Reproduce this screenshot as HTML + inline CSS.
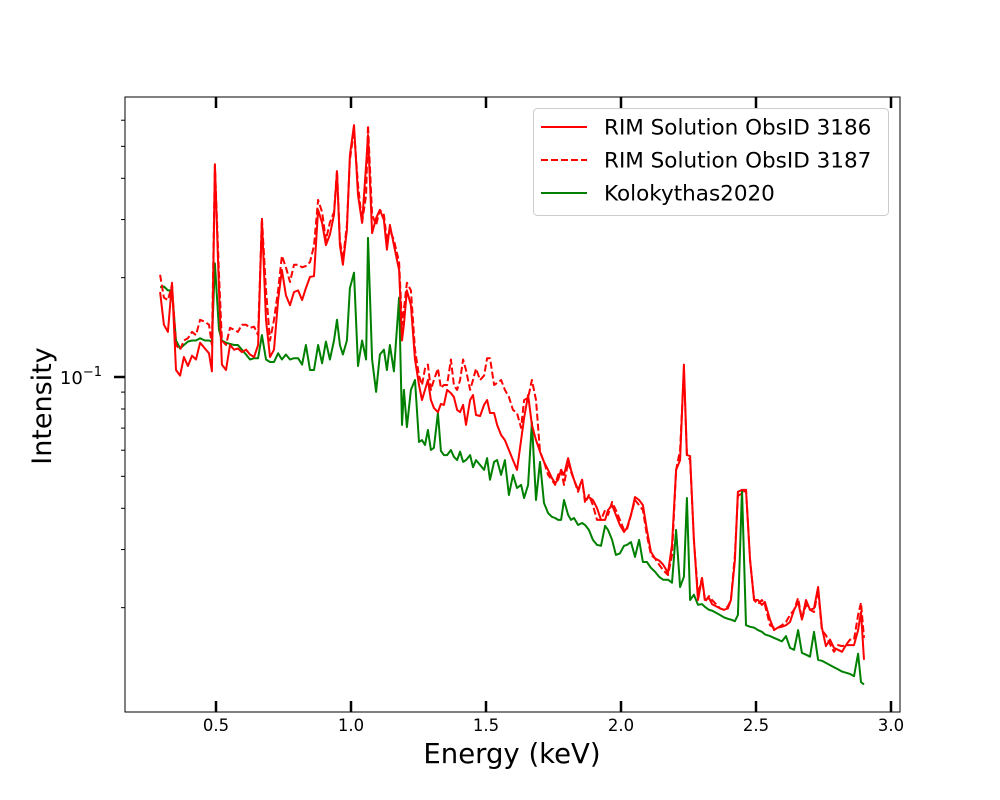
<!DOCTYPE html>
<html><head><meta charset="utf-8"><style>
body{margin:0;background:#fff}
svg{display:block;font-family:"DejaVu Sans","Liberation Sans",sans-serif}
</style></head><body>
<svg id="chart" width="1000" height="800" viewBox="0 0 1000 800">
<rect x="0" y="0" width="1000" height="800" fill="#fff"/>
<g id="series"></g>
<rect x="125" y="97" width="775" height="615" fill="none" stroke="#000" stroke-width="1"/>
<g id="axes"></g>
<text x="512" y="763" font-size="27.5" text-anchor="middle">Energy (keV)</text>
<text transform="translate(51,406) rotate(-90)" font-size="27" text-anchor="middle">Intensity</text>
<g>
<rect x="533.5" y="108.5" width="355" height="107" rx="4" fill="#fff" fill-opacity="0.8" stroke="#ccc"/>
<line x1="541" y1="127" x2="587" y2="127" stroke="#ff0000" stroke-width="2"/>
<text x="604" y="134.5" font-size="21.5">RIM Solution ObsID 3186</text>
<line x1="541" y1="160" x2="587" y2="160" stroke="#ff0000" stroke-width="2" stroke-dasharray="7,3"/>
<text x="604" y="167.5" font-size="21.5">RIM Solution ObsID 3187</text>
<line x1="541" y1="193" x2="587" y2="193" stroke="#008000" stroke-width="2"/>
<text x="604" y="200.5" font-size="21.5">Kolokythas2020</text>
</g>
</svg>
<script>
const energies=[.293,.307,.322,.337,.352,.367,.381,.396,.411,.426,.441,.459,.474,.485,.496,.511,.522,.537,.552,.567,.581,.596,.611,.626,.641,.656,.670,.685,.700,.715,.730,.744,.759,.774,.789,.804,.819,.833,.848,.863,.878,.893,.907,.922,.937,.948,.959,.970,.985,.996,1.011,1.026,1.041,1.056,1.063,1.078,1.093,1.107,1.122,1.133,1.144,1.159,1.178,1.189,1.196,1.207,1.222,1.237,1.252,1.263,1.274,1.285,1.296,1.307,1.322,1.333,1.344,1.356,1.370,1.381,1.393,1.404,1.415,1.426,1.441,1.452,1.463,1.478,1.493,1.504,1.515,1.530,1.541,1.556,1.570,1.585,1.600,1.615,1.630,1.641,1.656,1.670,1.685,1.700,1.715,1.730,1.744,1.756,1.767,1.778,1.789,1.804,1.815,1.826,1.841,1.856,1.867,1.881,1.896,1.911,1.926,1.941,1.952,1.967,1.981,1.996,2.011,2.022,2.037,2.052,2.067,2.081,2.096,2.111,2.126,2.141,2.156,2.174,2.189,2.204,2.219,2.233,2.244,2.256,2.270,2.285,2.300,2.311,2.326,2.337,2.352,2.367,2.381,2.396,2.407,2.422,2.433,2.448,2.463,2.478,2.493,2.507,2.522,2.533,2.552,2.567,2.581,2.596,2.611,2.626,2.641,2.656,2.670,2.685,2.700,2.715,2.730,2.744,2.759,2.774,2.789,2.804,2.819,2.833,2.848,2.863,2.878,2.889,2.900];
const obs3186=[.181,.144,.137,.193,.105,.101,.115,.108,.116,.113,.127,.122,.118,.104,.441,.183,.109,.105,.125,.121,.122,.119,.121,.117,.115,.125,.299,.149,.115,.121,.171,.211,.177,.165,.181,.183,.171,.186,.201,.202,.321,.293,.251,.270,.310,.418,.251,.219,.279,.470,.580,.356,.293,.439,.541,.273,.303,.321,.299,.243,.289,.251,.211,.129,.144,.183,.165,.113,.0946,.0852,.0914,.0979,.0852,.0806,.0783,.0829,.0823,.0914,.0894,.0870,.0795,.0783,.0823,.0716,.0852,.0882,.0767,.0762,.0823,.0852,.0778,.0778,.0716,.0667,.0644,.0601,.0560,.0523,.0644,.0751,.0882,.0716,.0644,.0594,.0553,.0523,.0494,.0477,.0488,.0523,.0505,.0568,.0523,.0488,.0455,.0488,.0424,.0433,.0424,.0401,.0369,.0369,.0395,.0409,.0382,.0356,.0339,.0349,.0382,.0433,.0424,.0409,.0344,.0295,.0282,.0278,.0270,.0255,.0310,.0523,.0560,.109,.0580,.0576,.0321,.0211,.0246,.0211,.0214,.0205,.0202,.0199,.0197,.0199,.0211,.0278,.0449,.0455,.0455,.0278,.0211,.0211,.0204,.0208,.0184,.0171,.0174,.0175,.0177,.0181,.0197,.0208,.0184,.0211,.0197,.0199,.0231,.0174,.0153,.0160,.0151,.0149,.0147,.0154,.0154,.0154,.0171,.0194,.0139];
const obs3187=[.204,.174,.171,.190,.125,.121,.129,.131,.137,.134,.149,.147,.144,.125,.439,.204,.129,.125,.141,.139,.137,.144,.144,.141,.142,.134,.303,.183,.129,.149,.183,.233,.215,.194,.219,.219,.215,.217,.223,.250,.344,.316,.260,.294,.316,.424,.260,.226,.289,.455,.560,.382,.294,.356,.580,.310,.289,.321,.310,.260,.279,.260,.223,.144,.160,.193,.183,.121,.101,.0946,.106,.109,.0914,.0979,.106,.0926,.0946,.0946,.113,.0946,.0914,.0979,.113,.105,.0914,.0979,.106,.0979,.101,.114,.114,.0946,.0959,.0979,.0914,.0870,.0795,.0778,.0701,.0852,.0864,.0979,.0852,.0594,.0553,.0505,.0488,.0471,.0505,.0523,.0471,.0553,.0516,.0488,.0449,.0488,.0415,.0439,.0409,.0369,.0369,.0395,.0382,.0418,.0395,.0369,.0344,.0344,.0382,.0424,.0409,.0395,.0332,.0289,.0282,.0270,.0260,.0251,.0289,.0523,.0601,.105,.0580,.0560,.0321,.0219,.0246,.0208,.0217,.0211,.0205,.0199,.0197,.0202,.0211,.0289,.0436,.0445,.0455,.0278,.0211,.0205,.0211,.0204,.0177,.0174,.0174,.0177,.0181,.0190,.0197,.0214,.0184,.0204,.0197,.0194,.0226,.0171,.0165,.0155,.0147,.0154,.0153,.0154,.0160,.0160,.0190,.0207,.0162];
const kolokythas=[.187,.188,.183,.183,.129,.122,.125,.128,.129,.129,.131,.129,.129,.128,.221,.139,.129,.127,.126,.125,.125,.121,.117,.113,.114,.114,.134,.113,.111,.111,.118,.113,.117,.113,.114,.114,.109,.125,.105,.105,.125,.110,.128,.113,.129,.149,.125,.117,.129,.186,.207,.108,.129,.113,.264,.113,.0901,.117,.121,.105,.125,.104,.174,.0716,.0914,.0705,.0914,.0979,.0636,.0644,.0622,.0691,.0601,.0610,.0778,.0597,.0580,.0580,.0601,.0573,.0560,.0594,.0553,.0560,.0580,.0533,.0560,.0541,.0523,.0568,.0488,.0553,.0560,.0505,.0560,.0439,.0505,.0461,.0471,.0430,.0471,.0730,.0424,.0553,.0415,.0387,.0377,.0374,.0369,.0369,.0424,.0382,.0369,.0374,.0356,.0361,.0356,.0344,.0321,.0310,.0308,.0354,.0344,.0321,.0289,.0292,.0308,.0310,.0316,.0285,.0321,.0275,.0275,.0264,.0257,.0248,.0243,.0243,.0238,.0344,.0231,.0248,.0430,.0211,.0219,.0204,.0205,.0201,.0197,.0196,.0193,.0190,.0187,.0185,.0184,.0182,.0190,.0455,.0177,.0175,.0174,.0171,.0169,.0166,.0164,.0162,.0160,.0158,.0164,.0151,.0149,.0171,.0146,.0144,.0142,.0169,.0139,.0138,.0136,.0134,.0132,.0130,.0128,.0127,.0126,.0124,.0145,.0119,.0117];
const xTicks=[0.5,1.0,1.5,2.0,2.5,3.0];
const xTickLabels=["0.5","1.0","1.5","2.0","2.5","3.0"];
const yMinorTicks=[0.02,0.03,0.04,0.05,0.06,0.07,0.08,0.09,0.2,0.3,0.4,0.5,0.6];

const NS="http://www.w3.org/2000/svg";
function xs(e){return 81+270*e;}
function ys(v){return 377-330*Math.log10(v/0.1);}
const gS=document.getElementById('series'), gA=document.getElementById('axes');
function mk(tag,attrs,parent){const el=document.createElementNS(NS,tag);for(const k in attrs)el.setAttribute(k,attrs[k]);parent.appendChild(el);return el;}
function line(vals,color,dash,name){
  const n=Math.min(energies.length,vals.length);
  let d='';
  for(let i=0;i<n;i++){d+=(i?'L':'M')+xs(energies[i]).toFixed(1)+','+ys(vals[i]).toFixed(1);}
  const p=mk('path',{d:d,fill:'none',stroke:color,'stroke-width':2,'stroke-linejoin':'round'},gS);
  if(dash)p.setAttribute('stroke-dasharray','7,3');
  
  
}
line(kolokythas,'#008000',false,'series-kolokythas2020');
line(obs3187,'#ff0000',true,'series-obsid-3187');
line(obs3186,'#ff0000',false,'series-obsid-3186');

xTicks.forEach((t,i)=>{
  const x=xs(t);
  const a=mk('line',{x1:x,x2:x,y1:712,y2:701,stroke:'#000','stroke-width':2.5},gA);
  
  
  const b=mk('line',{x1:x,x2:x,y1:97,y2:108,stroke:'#000','stroke-width':2.5},gA);
  
  
  const tx=mk('text',{x:x,y:731,'font-size':16.5,'text-anchor':'middle'},gA);
  tx.textContent=xTickLabels[i];
  
  
});
yMinorTicks.forEach(v=>{
  const y=ys(v);
  const m=mk('line',{x1:121,x2:125,y1:y,y2:y,stroke:'#000','stroke-width':1},gA);
  
  
});
const mj=mk('line',{x1:114,x2:125,y1:ys(0.1),y2:ys(0.1),stroke:'#000','stroke-width':2.5},gA);


const yl=mk('text',{x:102,y:ys(0.1)+7,'font-size':18,'text-anchor':'end'},gA);
yl.innerHTML='10<tspan dy="-8" font-size="13">−1</tspan>';


</script>
</body></html>
